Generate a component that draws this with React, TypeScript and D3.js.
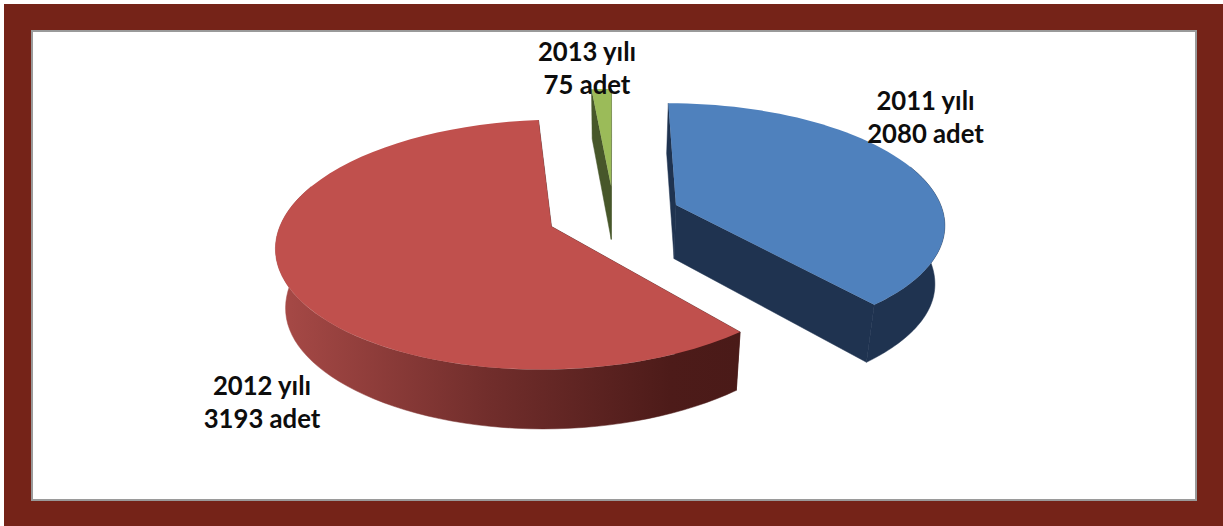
import React from 'react';
import * as d3 from 'd3';

const years = ['2011 yılı', '2012 yılı', '2013 yılı'];
const counts = [2080, 3193, 75];
const topColors = ['#4f81bd', '#c0504d', '#9bbb59'];
const wallColors = ['#1f3350', '#4d1b19', '#47572a'];

const WIDTH = 1223;
const HEIGHT = 526;

// pie geometry, worked out from the picture
const cx = 614;
const cy = 215;
const rx = 268;
const ry = 119;
const perspective = 0.143;
const explode = 0.249;
const depth = 54;
const shrink = 0.03;
// the wall reads a bit deeper at the far left/right of the rim
const sideBulge = 0.08;

// label centres (x) and the baseline of the first line
const labelPos = [
  { x: 925.5, y: 110 },
  { x: 262, y: 395 },
  { x: 587, y: 61 },
];

type Pt = [number, number];

// disc point -> screen, z = 0 for top face, z = 1 for the bottom face
const project = (X: number, Y: number, z: number, extra = 0): Pt => {
  const s = 1 / (1 - perspective * Y);
  const f = 1 - shrink * z;
  return [cx + X * s * rx * f, cy + Y * s * ry * f + z * depth * (1 + extra) * s];
};

const line = d3.line<Pt>().x(d => d[0]).y(d => d[1]);

const pie = d3.pie<number>().sort(null).value(d => d);
const slices = pie(counts);

const sliceGeom = (slice: d3.PieArcDatum<number>) => {
  const mid = (slice.startAngle + slice.endAngle) / 2;
  const ox = Math.sin(mid) * explode;
  const oy = -Math.cos(mid) * explode;
  const rim = (a: number, z: number) =>
    project(ox + Math.sin(a), oy - Math.cos(a), z, sideBulge * Math.pow(Math.sin(a), 6));
  const tip = (z: number) => project(ox, oy, z);
  const arcPts = (a0: number, a1: number, z: number) =>
    d3.range(61).map(i => rim(a0 + ((a1 - a0) * i) / 60, z));

  const top = line([tip(0), ...arcPts(slice.startAngle, slice.endAngle, 0)]) + 'Z';
  const sideA = line([tip(0), rim(slice.startAngle, 0), rim(slice.startAngle, 1), tip(1)]) + 'Z';
  const sideB = line([tip(0), rim(slice.endAngle, 0), rim(slice.endAngle, 1), tip(1)]) + 'Z';

  // only the front of the rim shows, the top face hides whatever pokes past it
  const a0 = Math.max(slice.startAngle, (70 * Math.PI) / 180);
  const a1 = Math.min(slice.endAngle, (290 * Math.PI) / 180);
  const outer = a1 > a0
    ? line([...arcPts(a0, a1, 0), ...arcPts(a0, a1, 1).reverse()]) + 'Z'
    : null;
  return { top, sideA, sideB, outer };
};

const App: React.FC = () => {
  const geoms = slices.map(sliceGeom);
  const drawOrder = [2, 0, 1];

  return (
    <svg
      width={WIDTH}
      height={HEIGHT}
      style={{ position: 'fixed', left: 0, top: 0, display: 'block', background: '#fff' }}
    >
      <defs>
        <linearGradient id="redWall">
          <stop offset="0" stopColor="#a84a47" />
          <stop offset="0.45" stopColor="#722e2c" />
          <stop offset="0.85" stopColor="#4d1b19" />
          <stop offset="1" stopColor="#4a1a18" />
        </linearGradient>
      </defs>

      {/* frame */}
      <rect x={4} y={4} width={WIDTH - 4} height={HEIGHT - 4} fill="#752318" />
      <rect x={31} y={30} width={1166} height={471} fill="#9a9a9a" />
      <rect x={33} y={32} width={1162} height={467} fill="#fff" />

      {drawOrder.map(i => {
        const g = geoms[i];
        const wall = wallColors[i];
        const outerFill = i === 1 ? 'url(#redWall)' : wall;
        return (
          <g key={years[i]}>
            <path d={g.sideA} fill={wall} stroke={wall} strokeWidth={0.5} />
            <path d={g.sideB} fill={wall} stroke={wall} strokeWidth={0.5} />
            {g.outer && <path d={g.outer} fill={outerFill} stroke={outerFill} strokeWidth={0.5} />}
            <path d={g.top} fill={topColors[i]} />
          </g>
        );
      })}

      {years.map((year, i) => (
        <text
          key={year}
          textAnchor="middle"
          fontFamily="Lato, 'Open Sans', sans-serif"
          fontWeight="bold"
          fontSize={25.7}
          fill="#0d0d0d"
        >
          <tspan x={labelPos[i].x} y={labelPos[i].y}>{year}</tspan>
          <tspan x={labelPos[i].x} y={labelPos[i].y + 33}>{`${counts[i]} adet`}</tspan>
        </text>
      ))}
    </svg>
  );
};

export default App;
